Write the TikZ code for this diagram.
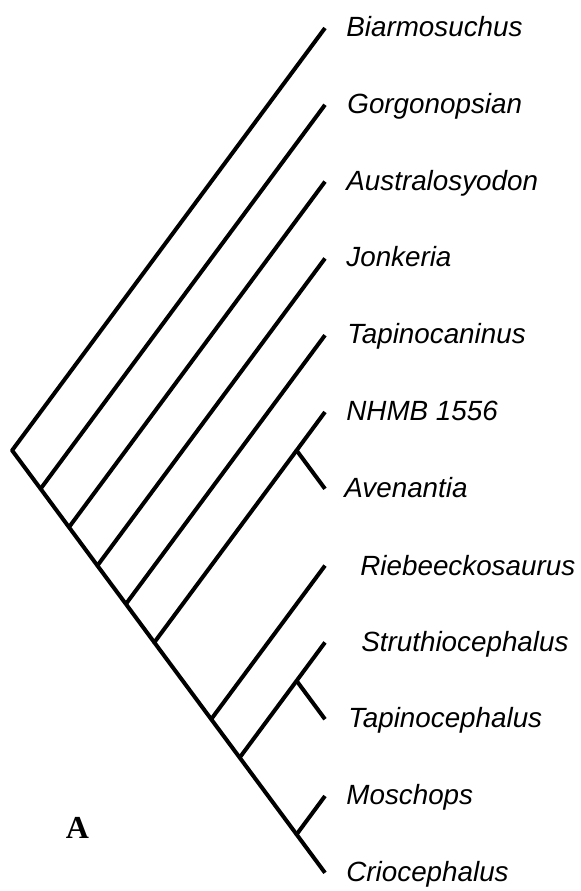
\documentclass[tikz,border=0pt]{standalone}
\usepackage{fontspec}
\setmainfont{Liberation Serif}
\setsansfont{Liberation Sans}
\begin{document}
\begin{tikzpicture}[x=0.5pt,y=-0.5pt,
  branch/.style={line width=2pt,line join=round},
  taxon/.style={anchor=base west,inner sep=0pt,font=\sffamily\itshape\fontsize{13.9}{16}\selectfont},
  panel/.style={anchor=base,inner sep=0pt,font=\rmfamily\bfseries\fontsize{16}{19}\selectfont}]
\useasboundingbox (0,0) rectangle (581,891);
\coordinate (biarm) at (325,28.0);
\coordinate (gorgo) at (325,104.8);
\coordinate (austr) at (325,181.6);
\coordinate (jonk) at (325,258.4);
\coordinate (tapca) at (325,335.2);
\coordinate (nhmb) at (325,412.0);
\coordinate (aven) at (325,488.8);
\coordinate (rieb) at (325,565.6);
\coordinate (struth) at (325,642.4);
\coordinate (tapce) at (325,719.2);
\coordinate (mosch) at (325,796.0);
\coordinate (crio) at (325,872.8);
\coordinate (root) at (12.1,450.4);
\coordinate (n1) at (40.6,488.8);
\coordinate (n2) at (69.0,527.2);
\coordinate (n3) at (97.4,565.6);
\coordinate (n4) at (125.9,604.0);
\coordinate (n5) at (154.3,642.4);
\coordinate (nav) at (296.6,450.4);
\coordinate (n7) at (211.2,719.2);
\coordinate (n8) at (239.7,757.6);
\coordinate (nst) at (296.6,680.8);
\coordinate (nmc) at (296.6,834.4);
\draw[branch] (biarm) -- (root) -- (n1);
\draw[branch] (gorgo) -- (n1) -- (n2);
\draw[branch] (austr) -- (n2) -- (n3);
\draw[branch] (jonk) -- (n3) -- (n4);
\draw[branch] (tapca) -- (n4) -- (n5);
\draw[branch] (nav) -- (n5) -- (n7);
\draw[branch] (nhmb) -- (nav) -- (aven);
\draw[branch] (rieb) -- (n7) -- (n8);
\draw[branch] (nst) -- (n8) -- (nmc);
\draw[branch] (struth) -- (nst) -- (tapce);
\draw[branch] (mosch) -- (nmc) -- (crio);
\node[taxon] (lbiarm) at (346,36.5) {Biarmosuchus};
\node[taxon] (lgorgo) at (347,113.3) {Gorgonopsian};
\node[taxon] (laustr) at (346,190.1) {Australosyodon};
\node[taxon] (ljonk) at (346,266.9) {Jonkeria};
\node[taxon] (ltapca) at (347,343.7) {Tapinocaninus};
\node[taxon] (lnhmb) at (346,420.5) {NHMB 1556};
\node[taxon] (laven) at (344,497.3) {Avenantia};
\node[taxon] (lrieb) at (360,575.0) {Riebeeckosaurus};
\node[taxon] (lstruth) at (361,651.8) {Struthiocephalus};
\node[taxon] (ltapce) at (348,727.7) {Tapinocephalus};
\node[taxon] (lmosch) at (346,804.5) {Moschops};
\node[taxon] (lcrio) at (346,881.3) {Criocephalus};
\node[panel] (lpanel) at (77.5,838) {A};
\end{tikzpicture}
\end{document}
